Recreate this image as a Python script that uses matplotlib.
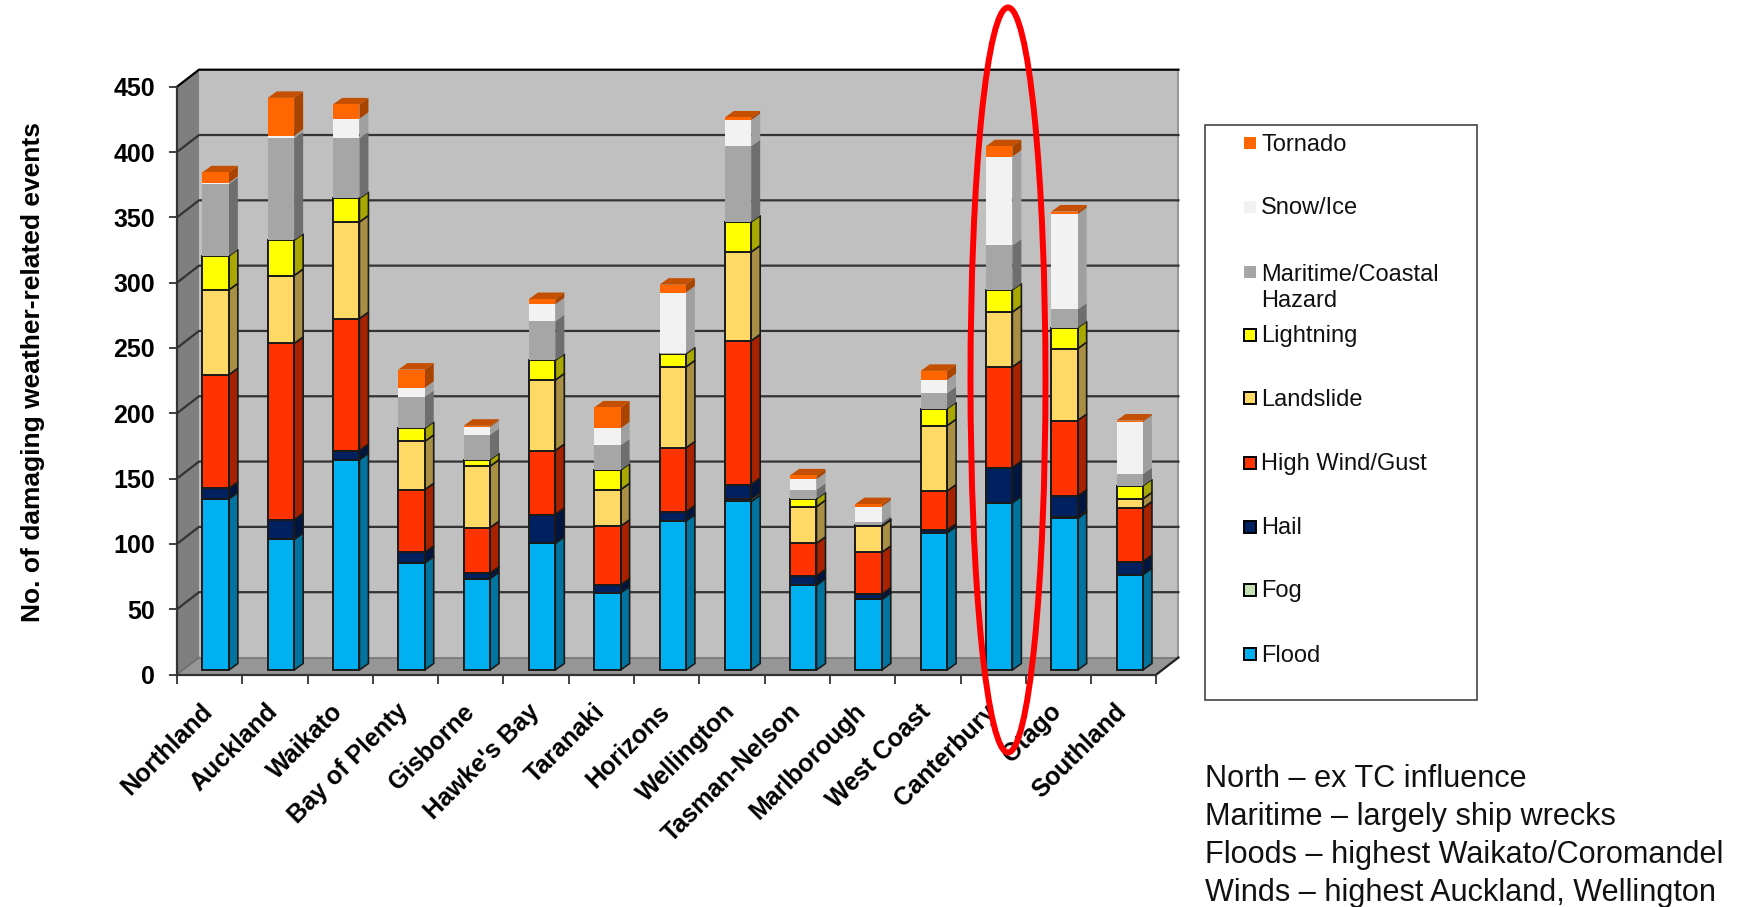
import matplotlib
matplotlib.use('Agg')
import numpy as np
import matplotlib.pyplot as plt
from matplotlib.patches import Ellipse, Rectangle

plt.rcParams['font.family'] = ['Liberation Sans', 'DejaVu Sans']

regions = ['Northland', 'Auckland', 'Waikato', 'Bay of Plenty', 'Gisborne', "Hawke's Bay", 'Taranaki',
           'Horizons', 'Wellington', 'Tasman-Nelson', 'Marlborough', 'West Coast', 'Canterbury', 'Otago', 'Southland']

flood = [131, 100, 161, 82, 70, 97, 59, 114, 129, 65, 54, 105, 128, 116, 73]
fog = [0, 0, 0, 0, 0, 0, 0, 0, 2, 0, 0, 0, 0, 1, 0]
hail = [8, 15, 7, 8, 4, 22, 6, 7, 11, 7, 4, 2, 27, 16, 10]
wind = [87, 135, 101, 48, 35, 49, 45, 49, 110, 25, 32, 30, 77, 58, 41]
landslide = [65, 52, 74, 37, 47, 54, 28, 62, 68, 28, 20, 50, 42, 55, 7]
lightning = [26, 27, 18, 10, 5, 15, 15, 10, 23, 6, 1, 13, 17, 16, 10]
maritime = [55, 78, 46, 24, 19, 30, 19, 1, 58, 7, 2, 12, 34, 14, 9]
snow = [1, 2, 15, 7, 6, 13, 13, 46, 20, 8, 12, 10, 68, 73, 40]
tornado = [8, 29, 11, 14, 1, 4, 16, 6, 2, 3, 2, 7, 8, 2, 1]

# bottom to top: name, values, colour, black outline
series = [
    ('Flood', flood, '#00B0F0', True),
    ('Fog', fog, '#C6E0B4', True),
    ('Hail', hail, '#002060', True),
    ('High Wind/Gust', wind, '#FF3300', True),
    ('Landslide', landslide, '#FFD966', True),
    ('Lightning', lightning, '#FFFF00', True),
    ('Maritime/Coastal\nHazard', maritime, '#A6A6A6', False),
    ('Snow/Ice', snow, '#F2F2F2', False),
    ('Tornado', tornado, '#FF6600', False),
]
yticks = [0, 50, 100, 150, 200, 250, 300, 350, 400, 450]

notes = ['North \u2013 ex TC influence', 'Maritime \u2013 largely ship wrecks',
         'Floods \u2013 highest Waikato/Coromandel', 'Winds \u2013 highest Auckland, Wellington']

W, H = 1752, 907
fig = plt.figure(figsize=(W / 100, H / 100), dpi=100, facecolor='white')

# axes box is the front plane of the fake 3d chart
left, right, zero, top = 177.0, 1156.4, 674.5, 86.7
ax = fig.add_axes([left / W, 1 - zero / H, (right - left) / W, (zero - top) / H])
ax.set_xlim(0, len(regions))
ax.set_ylim(0, 450)
ax.patch.set_visible(False)
px_x = (right - left) / len(regions)
px_y = (zero - top) / 450

# depth offsets, pixels to data units
wall_dx, wall_dy = 22 / px_x, 17 / px_y
bar_dx, bar_dy = 9 / px_x, 6.5 / px_y
gap_x, gap_y = 6 / px_x, 4.5 / px_y
bar_w = 26.4 / px_x
n = len(regions)

ax.fill([0, wall_dx, wall_dx, 0], [0, wall_dy, 450 + wall_dy, 450], color='#7F7F7F', lw=0, clip_on=False, zorder=1)
ax.fill([wall_dx, n + wall_dx, n + wall_dx, wall_dx], [wall_dy, wall_dy, 450 + wall_dy, 450 + wall_dy],
        color='#C0C0C0', lw=0, clip_on=False, zorder=1)
ax.fill([0, n, n + wall_dx, wall_dx], [0, 0, wall_dy, wall_dy], color='#969696', lw=0, clip_on=False, zorder=1)
ax.plot([n + wall_dx, n + wall_dx], [wall_dy, 450 + wall_dy], color='#999999', lw=1.5, clip_on=False, zorder=2)

for v in yticks[1:]:
    c = 'black' if v == 450 else '#333333'
    ax.plot([0, wall_dx, n + wall_dx], [v, v + wall_dy, v + wall_dy], color=c, lw=1.6, clip_on=False, zorder=2)
ax.plot([0, wall_dx], [0, wall_dy], color='#6E6E6E', lw=1.2, clip_on=False, zorder=2)
ax.plot([wall_dx, n + wall_dx], [wall_dy, wall_dy], color='#7A7A7A', lw=1.2, clip_on=False, zorder=2)
ax.plot([n, n + wall_dx], [0, wall_dy], color='#222222', lw=1.6, clip_on=False, zorder=2)


def shade(col, f):
    rgb = np.array(matplotlib.colors.to_rgb(col))
    return tuple(rgb * f)


x = np.arange(n) + 0.5 + gap_x
bottom = np.full(n, gap_y, dtype=float)
for name, vals, col, outlined in series:
    vals = np.array(vals, dtype=float)
    ec = '#1A1A1A' if outlined else 'none'
    for i in range(n):
        if vals[i] <= 0:
            continue
        x1 = x[i] + bar_w / 2
        y0, y1 = bottom[i], bottom[i] + vals[i]
        ax.fill([x1, x1 + bar_dx, x1 + bar_dx, x1], [y0, y0 + bar_dy, y1 + bar_dy, y1], facecolor=shade(col, 0.66),
                edgecolor=ec, lw=1.2, clip_on=False, zorder=3)
    ax.bar(x, vals, bar_w, bottom=bottom, color=col, edgecolor=ec, linewidth=1.4 if outlined else 0, zorder=4,
           clip_on=False)
    bottom = bottom + vals

# only the top series shows its lid
for i in range(n):
    x0, x1 = x[i] - bar_w / 2, x[i] + bar_w / 2
    ax.fill([x0, x1, x1 + bar_dx, x0 + bar_dx], [bottom[i], bottom[i], bottom[i] + bar_dy, bottom[i] + bar_dy],
            color=shade(series[-1][2], 0.77), lw=0, clip_on=False, zorder=3)

for s in ['top', 'right']:
    ax.spines[s].set_visible(False)
for s in ['left', 'bottom']:
    ax.spines[s].set_color('#333333')
    ax.spines[s].set_linewidth(1.6)
    ax.spines[s].set_zorder(5)
ax.set_yticks(yticks)
ax.set_xticks(np.arange(n + 1))
ax.set_xticklabels([])
ax.tick_params(axis='y', length=5.5, width=1.2, color='#222222', labelsize=18, pad=10.5)
ax.tick_params(axis='x', which='major', length=6.5, width=1.2, color='#222222')
ax.set_xticks(np.arange(n) + 0.5 - 0.14, regions, minor=True, rotation=45, ha='right', rotation_mode='anchor')
ax.tick_params(axis='x', which='minor', length=0, labelsize=18, pad=18)
for t in ax.get_yticklabels() + ax.get_xticklabels(minor=True):
    t.set_fontweight('bold')

# overlay in reference pixels for the legend box, notes and the hand drawn ring
ov = fig.add_axes([0, 0, 1, 1], zorder=10)
ov.set_xlim(0, W)
ov.set_ylim(H, 0)
ov.axis('off')
ov.text(33, 372, 'No. of damaging weather-related events', rotation=90, fontsize=19, fontweight='bold',
        ha='center', va='center')

ov.add_patch(Rectangle((1204.5, 125), 272.5, 574.5, fc='white', ec='#444444', lw=1.2))
legend_y = {'Tornado': 143.3, 'Snow/Ice': 207, 'Maritime/Coastal\nHazard': 271.7, 'Lightning': 334.5, 'Landslide': 398,
            'High Wind/Gust': 462.7, 'Hail': 526.7, 'Fog': 590, 'Flood': 654}
for name, vals, col, outlined in series:
    my = legend_y[name]
    base = my + 7.5 + (28 if '\n' in name else 0)
    ov.add_patch(Rectangle((1244, my - 6), 12, 12, fc=col, ec='black' if outlined else 'none', lw=1.4))
    ov.text(1261, base, name, fontsize=17, ha='left', va='baseline', color='#111111', linespacing=1.27)

for i, line in enumerate(notes):
    ov.text(1205, 779 + i * 38, line, fontsize=22.1, ha='left', va='center', color='#111111')

ov.add_patch(Ellipse((1008, 380), 75, 745, fc='none', ec='#FF0000', lw=4.3))

fig.savefig('out.png', dpi=100)
